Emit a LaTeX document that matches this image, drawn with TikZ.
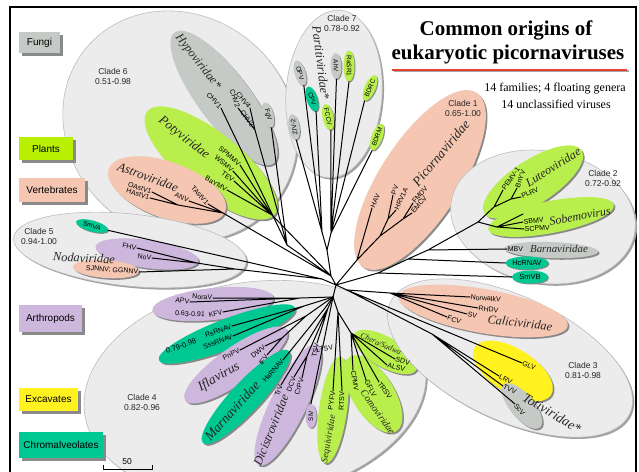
\documentclass[tikz,border=0pt]{standalone}
\usepackage{fontspec}
\setmainfont{Liberation Serif}
\setsansfont{Liberation Sans}
\usetikzlibrary{shapes.geometric,shadows}
\definecolor{cladegray}{HTML}{ECECEC}
\definecolor{cladeedge}{HTML}{BDBDBD}
\definecolor{shadowc}{HTML}{8A8A8A}
\definecolor{fungi}{HTML}{C6CAC6}
\definecolor{plant}{HTML}{B9EF4C}
\definecolor{plantbox}{HTML}{B9EF00}
\definecolor{vert}{HTML}{F5C6B2}
\definecolor{arth}{HTML}{CDB7DD}
\definecolor{excav}{HTML}{FFF21F}
\definecolor{chrom}{HTML}{00C893}
\definecolor{titlered}{HTML}{E8402F}
\newcommand\Ell[6]{%
  \fill[shadowc,rotate around={#6:(#2+1.6,#3+1.6)}] (#2+1.6,#3+1.6) ellipse [x radius=#4pt,y radius=#5pt];
  \fill[#1,rotate around={#6:(#2,#3)}] (#2,#3) ellipse [x radius=#4pt,y radius=#5pt];}
\newcommand\CEll[6]{%
  \fill[shadowc!80,rotate around={#6:(#2+1.8,#3+1.8)}] (#2+1.8,#3+1.8) ellipse [x radius=#4pt,y radius=#5pt];
  \filldraw[fill=#1,draw=cladeedge,line width=0.6pt,rotate around={#6:(#2,#3)}] (#2,#3) ellipse [x radius=#4pt,y radius=#5pt];}
\tikzset{
  br/.style={line width=1pt,line cap=round,line join=round},
  leaf/.style={font=\sffamily\fontsize{7}{8}\selectfont,inner sep=0.6pt},
  fam/.style={font=\itshape\fontsize{#1}{#1}\selectfont,inner sep=0pt,text=black!85},
  clab/.style={font=\sffamily\fontsize{8.5}{10}\selectfont,align=center,inner sep=0pt,text=black!85},
  legendbox/.style={font=\sffamily\fontsize{10}{12}\selectfont,inner sep=0pt,drop shadow={shadow xshift=2.5pt,shadow yshift=-2.5pt,fill=shadowc,opacity=1}},
  pill/.style={ellipse,inner sep=0.5pt,minimum height=11pt,minimum width=26pt,font=\sffamily\fontsize{6.5}{7}\selectfont,drop shadow={shadow xshift=1pt,shadow yshift=-1pt,fill=shadowc,opacity=1}},
}
\begin{document}
\begin{tikzpicture}[x=1pt,y=-1pt]
\useasboundingbox (0,0) rectangle (639,471);
\fill[white] (0,0) rectangle (639,471);
\draw[line width=2.2pt] (10,7) rectangle (636,480);

% ---------- clade and family ellipses ----------
\CEll{cladegray}{180}{126}{122}{110}{-40}
\Ell{fungi}{224}{98}{82}{26}{-53}
\Ell{plant}{211}{163}{82}{30}{-39}
\Ell{vert}{167}{190}{62}{28}{-20}
\CEll{cladegray}{334}{94}{48}{84}{-4}
\CEll{cladegray}{130}{250}{117}{36}{-6}
\Ell{arth}{147}{254}{52}{14}{-8}
\Ell{vert}{106}{269}{33}{9}{-4}
\CEll{cladegray}{255}{390}{172}{108}{8}
\Ell{arth}{213}{304}{61}{16}{6}
\Ell{chrom}{227}{334}{73}{15}{21}
\Ell{arth}{236}{365}{62}{18}{35}
\Ell{chrom}{246}{397}{63}{15}{47}
\Ell{arth}{288}{405}{67}{18}{64}
\Ell{plant}{333}{410}{54}{14}{82}
\Ell{plant}{373}{394}{44}{21}{-58}
\Ell{plant}{385}{352}{36}{15}{-30}
\Ell{vert}{420}{180}{104}{40}{57}
\CEll{cladegray}{543}{217}{93}{66}{-10}
\Ell{plant}{533}{182}{58}{22}{33}
\Ell{plant}{551}{217}{64}{16}{11}
\Ell{fungi}{551}{250}{47}{8}{-2}
\CEll{cladegray}{510}{358}{132}{62}{-25}
\Ell{vert}{483}{311}{86}{22}{-10}
\Ell{excav}{513}{371}{45}{22}{-32}
\Ell{fungi}{522}{406}{28}{12}{-50}

% ---------- legend ----------
\node[legendbox,fill=fungi,minimum width=41pt,minimum height=21pt] (lfungi) at (39.5,42.5) {Fungi};
\node[legendbox,fill=plantbox,minimum width=54pt,minimum height=23pt] (lplants) at (46,148.5) {Plants};
\node[legendbox,fill=vert,minimum width=66pt,minimum height=24pt] (lvert) at (52,190) {Vertebrates};
\node[legendbox,fill=arth,minimum width=63pt,minimum height=27pt] (larth) at (50.5,318.5) {Arthropods};
\node[legendbox,fill=excav,minimum width=59pt,minimum height=23pt] (lexc) at (48.5,399.5) {Excavates};
\node[legendbox,fill=chrom,minimum width=84pt,minimum height=26pt] (lchrom) at (61,445) {Chromalveolates};

% ---------- title ----------
\node[font=\bfseries\fontsize{21}{24}\selectfont] (t1) at (506,30) {Common origins of};
\node[font=\bfseries\fontsize{21}{24}\selectfont] (t2) at (508,54) {eukaryotic picornaviruses};
\coordinate (ula) at (392,69.5); \coordinate (ulb) at (627,69.5);
\draw[black!35,line width=2pt] ([shift={(1.5pt,-1.5pt)}]ula) -- ([shift={(1.5pt,-1.5pt)}]ulb);
\draw[titlered,line width=2pt] (ula) -- (ulb);
\node[font=\fontsize{12}{14}\selectfont] (s1) at (555,89) {14 families; 4 floating genera};
\node[font=\fontsize{12}{14}\selectfont] (s2) at (556,104) {14 unclassified viruses};

% ---------- scale bar ----------
\coordinate (sb1) at (103,469); \coordinate (sb2) at (152,469);
\draw[line width=0.8pt] ([yshift=4pt]sb1) -- (sb1) -- (sb2) -- ([yshift=4pt]sb2);
\node[font=\sffamily\fontsize{8.5}{10}\selectfont] (sbl) at (127,462) {50};

% ---------- pills ----------
\node[pill,fill=fungi,rotate=-75] (fgv) at (268,115) {FgV};
\node[pill,fill=fungi,rotate=-73] (opv) at (300,73) {OPV};
\node[pill,fill=chrom,rotate=-72] (cpv) at (312,99) {CPV};
\node[pill,fill=fungi,rotate=100] (ziv) at (294,127) {ZIV-2};
\node[pill,fill=plant,rotate=-78] (fccv) at (328,117) {FCCV};
\node[pill,fill=fungi,rotate=-88] (ahv) at (336,66) {AhV};
\node[pill,fill=plant,rotate=-90] (rasr) at (349,66) {RaSR1};
\node[pill,fill=plant,rotate=67] (bdrc) at (370,88) {BDRC};
\node[pill,fill=plant,rotate=70] (bdrm) at (377,137) {BDRM};
\node[pill,fill=chrom,rotate=-15,minimum width=33pt] (smva) at (92,226) {SmVA};
\node[pill,fill=arth,rotate=90,minimum width=24pt] (siv) at (311,416) {SIV};
\node[pill,fill=chrom,minimum width=40pt,minimum height=13pt,font=\sffamily\fontsize{7.5}{8}\selectfont] (hcrnav) at (527,263) {HcRNAV};
\node[pill,fill=chrom,minimum width=36pt,minimum height=13pt,font=\sffamily\fontsize{7.5}{8}\selectfont] (smvb) at (530,277) {SmVB};

% ---------- internal coordinates ----------
\coordinate (R) at (336,285);
\coordinate (U) at (331,276);
\coordinate (C7) at (327,250);
\coordinate (C7a) at (322,232);
\coordinate (C7b) at (331,233);
\coordinate (Hn) at (287,245);
\coordinate (H2) at (255,130);
\coordinate (PotyN) at (272,215);
\coordinate (AstroN) at (223,213);
\coordinate (AstroA) at (178,205);
\coordinate (C5) at (322,279);
\coordinate (NodaN) at (197,263);
\coordinate (NodaN2) at (235,269);
\coordinate (C4) at (333,297);
\coordinate (NAK) at (300,298);
\coordinate (RsN) at (304,306);
\coordinate (IflN) at (306,316);
\coordinate (DI) at (282,338);
\coordinate (MarN) at (325,308);
\coordinate (DCn) at (307,356);
\coordinate (DicN) at (328,308);
\coordinate (PlantN) at (338,312);
\coordinate (CC) at (351,333);
\coordinate (PicN) at (357,260);
\coordinate (PH) at (388,219);
\coordinate (FE) at (403,219);
\coordinate (PF) at (380,236);
\coordinate (LuteN) at (494,207);
\coordinate (BP) at (511,199);
\coordinate (SobN) at (497,227);
\coordinate (LS) at (478,222);
\coordinate (C2a) at (428,250);
\coordinate (C2b) at (408,259);
\coordinate (C2) at (378,273);
\coordinate (C3) at (347,290);
\coordinate (CaliN) at (390,293);
\coordinate (T2) at (432,334);

% ---------- leaf end points ----------
\coordinate (chv1) at (221,108);
\coordinate (chv2) at (238,108);
\coordinate (chv4) at (250,108);
\coordinate (chv3) at (253,127);
\coordinate (spmmv) at (240,165);
\coordinate (wsmv) at (233,171);
\coordinate (tev) at (234,181);
\coordinate (baymv) at (227,190);
\coordinate (oastv) at (152,192);
\coordinate (hastv) at (150,198);
\coordinate (anv) at (189,201);
\coordinate (tastv) at (208,204);
\coordinate (fhv) at (137,248);
\coordinate (nov) at (152,258);
\coordinate (sjnnv) at (139,272);
\coordinate (norav) at (213,298);
\coordinate (apv) at (190,302);
\coordinate (kfv) at (223,312);
\coordinate (rsrnav) at (232,326);
\coordinate (sssrnav) at (233,336);
\coordinate (pnpv) at (240,350);
\coordinate (dwv) at (265,346);
\coordinate (ifv) at (267,355);
\coordinate (harnav) at (283,360);
\coordinate (trv) at (281,385);
\coordinate (dcv) at (294,377);
\coordinate (crpv) at (302,378);
\coordinate (tsv) at (317,343);
\coordinate (pyfv) at (333,391);
\coordinate (rtsv) at (342,391);
\coordinate (cpmv) at (353,370);
\coordinate (gflv) at (366,380);
\coordinate (trsv) at (379,382);
\coordinate (sdv) at (395,359);
\coordinate (alsv) at (387,365);
\coordinate (hav) at (372,208);
\coordinate (pv) at (393,195);
\coordinate (hrv) at (396,210);
\coordinate (fmdv) at (413,203);
\coordinate (emcv) at (412,213);
\coordinate (pemv) at (503,190);
\coordinate (bnyv) at (517,188);
\coordinate (plrv) at (521,197);
\coordinate (ltsv) at (523,214);
\coordinate (sbmv) at (523,222);
\coordinate (scpmv) at (524,229);
\coordinate (mbv) at (507,249);
\coordinate (norw) at (470,297);
\coordinate (rhdv) at (478,308);
\coordinate (sv) at (467,314);
\coordinate (fcv) at (447,317);
\coordinate (glv) at (522,363);
\coordinate (lrv) at (499,376);
\coordinate (tvv) at (503,386);
\coordinate (scv) at (515,404);

% ---------- branches ----------
\draw[br] (R)--(U) (R)--(C5) (R)--(C4) (R)--(PicN) (R)--(C2) (R)--(C3);
\draw[br] (U)--(C7) (U)--(Hn) (U)--(PotyN) (U)--(AstroN);
\draw[br] (C7)--(C7a) (C7)--(C7b);
\draw[br] (C7a)--(opv.east) (C7a)--(cpv.east) (C7a)--(ziv.west);
\draw[br] (C7b)--(fccv.east) (C7b)--(ahv.east) (C7b)--(rasr.east) (C7b)--(bdrc.west) (C7b)--(bdrm.west);
\draw[br] (Hn)--(chv1) (Hn)--(H2) (Hn)--(fgv.east);
\draw[br] (H2)--(chv2) (H2)--(chv4) (H2)--(chv3);
\draw[br] (PotyN)--(spmmv) (PotyN)--(wsmv) (PotyN)--(tev) (PotyN)--(baymv);
\draw[br] (AstroN)--(AstroA) (AstroA)--(oastv) (AstroA)--(hastv) (AstroN)--(anv) (AstroN)--(tastv);
\draw[br] (C5)--(smva.east) (C5)--(NodaN2) (NodaN2)--(NodaN) (NodaN2)--(sjnnv) (NodaN)--(fhv) (NodaN)--(nov);
\draw[br] (C4)--(NAK) (NAK)--(norav) (NAK)--(apv) (NAK)--(kfv);
\draw[br] (C4)--(RsN) (RsN)--(rsrnav) (RsN)--(sssrnav);
\draw[br] (C4)--(IflN) (IflN)--(pnpv) (IflN)--(DI) (DI)--(dwv) (DI)--(ifv);
\draw[br] (C4)--(MarN) (MarN)--(harnav);
\draw[br] (C4)--(DicN) (DicN)--(trv) (DicN)--(DCn) (DCn)--(dcv) (DCn)--(crpv) (DicN)--(tsv);
\draw[br] (C4)--(siv.east);
\draw[br] (C4)--(PlantN) (PlantN)--(pyfv) (PlantN)--(rtsv) (PlantN)--(CC);
\draw[br] (CC)--(cpmv) (CC)--(gflv) (CC)--(trsv) (CC)--(sdv) (CC)--(alsv);
\draw[br] (PicN)--(hav) (PicN)--(PF) (PF)--(PH) (PF)--(FE) (PH)--(pv) (PH)--(hrv) (FE)--(fmdv) (FE)--(emcv);
\draw[br] (C2)--(C2b) (C2)--(smvb.west) (C2b)--(C2a) (C2b)--(hcrnav.west) (C2a)--(LS) (C2a)--(mbv);
\draw[br] (LS)--(LuteN) (LS)--(SobN) (LuteN)--(pemv) (LuteN)--(BP) (BP)--(bnyv) (BP)--(plrv);
\draw[br] (SobN)--(ltsv) (SobN)--(sbmv) (SobN)--(scpmv);
\draw[br] (C3)--(CaliN) (CaliN)--(norw) (CaliN)--(rhdv) (CaliN)--(sv) (CaliN)--(fcv);
\draw[br] (C3)--(glv) (C3)--(T2) (T2)--(lrv) (T2)--(tvv) (T2)--(scv);

% ---------- leaf labels ----------
\node[leaf,rotate=-48,anchor=east] (lchv1) at (chv1) {CHV1};
\node[leaf,rotate=-72,anchor=east] (lchv2) at (chv2) {CHV2};
\node[leaf,rotate=-50,anchor=east] (lchv4) at (chv4) {CHV4};
\node[leaf,rotate=-55,anchor=east] (lchv3) at (chv3) {CHV3};
\node[leaf,rotate=-40,anchor=east] (lspmmv) at (spmmv) {SPMMV};
\node[leaf,rotate=-40,anchor=east] (lwsmv) at (wsmv) {WSMV};
\node[leaf,rotate=-35,anchor=east] (ltev) at (tev) {TEV};
\node[leaf,rotate=-30,anchor=east] (lbaymv) at (baymv) {BaYMV};
\node[leaf,rotate=-18,anchor=east] (loastv) at (oastv) {OAstV1};
\node[leaf,rotate=-18,anchor=east] (lhastv) at (hastv) {HAstV1};
\node[leaf,rotate=-25,anchor=east] (lanv) at (anv) {ANV};
\node[leaf,rotate=-48,anchor=east] (ltastv) at (tastv) {TAstV1};
\node[leaf,rotate=-12,anchor=east] (lfhv) at (fhv) {FHV};
\node[leaf,rotate=-8,anchor=east] (lnov) at (nov) {NoV};
\node[leaf,rotate=-4,anchor=east] (lsjnnv) at (sjnnv) {SJNNV; GGNNV};
\node[leaf,rotate=-4,anchor=east] (lnorav) at (norav) {NoraV};
\node[leaf,rotate=-8,anchor=east] (lapv) at (apv) {APV};
\node[leaf,rotate=12,anchor=east] (lkfv) at (kfv) {KFV};
\node[leaf,rotate=-3] (l063) at (190,314) {0.63-0.91};
\node[leaf,rotate=20,anchor=east] (lrsrnav) at (rsrnav) {RsRNAV};
\node[leaf,rotate=20,anchor=east] (lsssrnav) at (sssrnav) {SssRNAV};
\node[leaf,rotate=20,font=\sffamily\fontsize{7.5}{8}\selectfont] (l079) at (181,346) {0.79-0.98};
\node[leaf,rotate=25,anchor=east] (lpnpv) at (pnpv) {PnPV};
\node[leaf,rotate=40,anchor=east] (ldwv) at (dwv) {DWV};
\node[leaf,rotate=55,anchor=east] (lifv) at (ifv) {IFV};
\node[leaf,rotate=48,anchor=east] (lharnav) at (harnav) {HaRNAV};
\node[leaf,rotate=70,anchor=east] (ltrv) at (trv) {TrV};
\node[leaf,rotate=70,anchor=east] (ldcv) at (dcv) {DCV};
\node[leaf,rotate=72,anchor=east] (lcrpv) at (crpv) {CrPV};
\node[leaf,rotate=78,anchor=east] (ltsv) at (tsv) {TSV};
\node[leaf,rotate=82,anchor=east] (lpyfv) at (pyfv) {PYFV};
\node[leaf,rotate=88,anchor=east] (lrtsv) at (rtsv) {RTSV};
\node[leaf,rotate=-80,anchor=west] (lcpmv) at (cpmv) {CPMV};
\node[leaf,rotate=-62,anchor=west] (lgflv) at (gflv) {GFLV};
\node[leaf,rotate=-55,anchor=west] (ltrsv) at (trsv) {TRSV};
\node[leaf,rotate=-15,anchor=west] (lsdv) at (sdv) {SDV};
\node[leaf,rotate=-15,anchor=west] (lalsv) at (alsv) {ALSV};
\node[leaf,rotate=65,anchor=west] (lhav) at (hav) {HAV};
\node[leaf,rotate=70,anchor=west] (lpv) at (pv) {PV};
\node[leaf,rotate=65,anchor=west] (lhrv) at (hrv) {HRV1A};
\node[leaf,rotate=50,anchor=west] (lfmdv) at (fmdv) {FMDV};
\node[leaf,rotate=50,anchor=west] (lemcv) at (emcv) {EMCV};
\node[leaf,rotate=55,anchor=west] (lpemv) at (pemv) {PEMV-1};
\node[leaf,rotate=70,anchor=west] (lbnyv) at (bnyv) {BnYV};
\node[leaf,rotate=25,anchor=west] (lplrv) at (plrv) {PLRV};
\node[leaf,rotate=12,anchor=west] (lltsv) at (ltsv) {LTSV};
\node[leaf,rotate=6,anchor=west] (lsbmv) at (sbmv) {SBMV};
\node[leaf,rotate=3,anchor=west] (lscpmv) at (scpmv) {SCPMV};
\node[leaf,anchor=west] (lmbv) at (mbv) {MBV};
\node[leaf,rotate=-5,anchor=west] (lnorw) at (norw) {NorwalkV};
\node[leaf,rotate=-8,anchor=west] (lrhdv) at (rhdv) {RHDV};
\node[leaf,rotate=-12,anchor=west] (lsv) at (sv) {SV};
\node[leaf,rotate=-20,anchor=west] (lfcv) at (fcv) {FCV};
\node[leaf,rotate=-22,anchor=west] (lglv) at (glv) {GLV};
\node[leaf,rotate=-25,anchor=west] (llrv) at (lrv) {LRV};
\node[leaf,rotate=-25,anchor=west] (ltvv) at (tvv) {TVV};
\node[leaf,rotate=-50,anchor=west] (lscv) at (scv) {ScV};

% ---------- family labels ----------
\node[fam=12,rotate=-52] (lhypo) at (198,62) {Hypoviridae*};
\node[fam=13,rotate=-38] (lpoty) at (184,138) {Potyviridae};
\node[fam=12.8,rotate=-20] (lastro) at (148,177) {Astroviridae};
\node[fam=12.4,rotate=-83] (lparti) at (321,63) {Partitiviridae*};
\node[fam=12.4,rotate=-3] (lnoda) at (84,258) {Nodaviridae};
\node[fam=12.3,rotate=-7] (lcalici) at (520,323) {Caliciviridae};
\node[fam=13.5,rotate=-31] (ltoti) at (552,413) {Totiviridae*};
\node[fam=13.4,rotate=50] (lpicorna) at (441,153) {Picornaviridae};
\node[fam=12.2,rotate=32] (llute) at (553,167) {Luteoviridae};
\node[fam=12,rotate=10] (lsobemo) at (580,216) {Sobemovirus};
\node[fam=10.8] (lbarna) at (559,249) {Barnaviridae};
\node[fam=13.5,rotate=30] (lifla) at (219,377) {Iflavirus};
\node[fam=13.5,rotate=48] (lmarna) at (232,411) {Marnaviridae};
\node[fam=12.4,rotate=68] (ldici) at (271,430) {Dicistroviridae};
\node[fam=9.5,rotate=80] (lsequi) at (329,439) {Sequiviridae};
\node[fam=10,rotate=-55] (lcomo) at (378,412) {Comoviridae};
\node[fam=8,rotate=-24] (lchera) at (381,344) {Chera/Sadwa};

% ---------- clade labels ----------
\node[clab] (cl1) at (463,108) {Clade 1\\0.65-1.00};
\node[clab] (cl2) at (603,178) {Clade 2\\0.72-0.92};
\node[clab] (cl3) at (583,370) {Clade 3\\0.81-0.98};
\node[clab] (cl4) at (142,402) {Clade 4\\0.82-0.96};
\node[clab] (cl5) at (39,236) {Clade 5\\0.94-1.00};
\node[clab] (cl6) at (113,76) {Clade 6\\0.51-0.98};
\node[clab] (cl7) at (342,23) {Clade 7\\0.78-0.92};
\end{tikzpicture}
\end{document}
